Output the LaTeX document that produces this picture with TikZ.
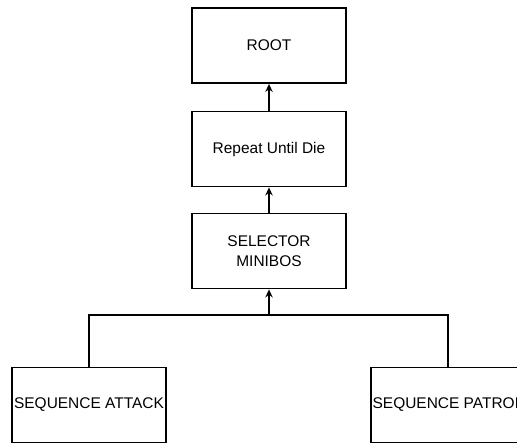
\documentclass[tikz,border=0pt]{standalone}
\usepackage{fontspec}
\setmainfont{Liberation Sans}
\usetikzlibrary{arrows.meta}

\tikzset{
  treebox/.style={draw, line width=1.1pt, minimum width=115.5pt, minimum height=56.5pt,
                  inner sep=0pt, align=center, font=\fontsize{11.6}{14.5}\selectfont},
}

\begin{document}
\begin{tikzpicture}[>={Stealth[length=6pt,width=5.5pt]}, x=0.75pt, y=-0.75pt, line width=1.1pt]
  \useasboundingbox (0,0) rectangle (517,444);
  \node[treebox] (root) at (269,45.5) {ROOT};
  \node[treebox] (repeat) at (269,149) {Repeat Until Die};
  \node[treebox] (selector) at (269,251) {SELECTOR\\MINIBOS};
  \node[treebox] (attack) at (89,405) {SEQUENCE ATTACK};
  \node[treebox] (patrol) at (448,405) {SEQUENCE PATROL};
  \coordinate (join) at (269,315);
  \draw[->] (repeat) -- (root);
  \draw[->] (selector) -- (repeat);
  \draw (attack.north) |- (join);
  \draw (patrol.north) |- (join);
  \draw[->] (join) -- (selector.south);
\end{tikzpicture}
\end{document}
